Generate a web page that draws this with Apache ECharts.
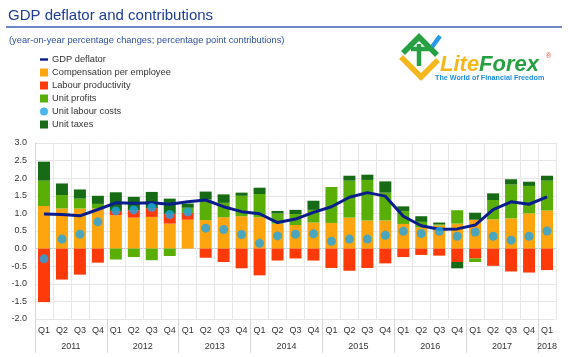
<!DOCTYPE html>
<html><head><meta charset="utf-8">
<script src="https://cdn.jsdelivr.net/npm/echarts@6/dist/echarts.min.js"></script>
<style>html,body{margin:0;padding:0;background:#fff}#c{width:568px;height:357px}</style>
</head><body><div id="c"></div>
<script>
const categories = [
  '2011Q1','2011Q2','2011Q3','2011Q4',
  '2012Q1','2012Q2','2012Q3','2012Q4',
  '2013Q1','2013Q2','2013Q3','2013Q4',
  '2014Q1','2014Q2','2014Q3','2014Q4',
  '2015Q1','2015Q2','2015Q3','2015Q4',
  '2016Q1','2016Q2','2016Q3','2016Q4',
  '2017Q1','2017Q2','2017Q3','2017Q4',
  '2018Q1'
];
const compensation = [
  1.21, 1.14, 1.14, 1.14,
  0.95, 0.88, 0.90, 0.71,
  0.82, 0.81, 0.89, 0.92,
  0.89, 0.71, 0.67, 0.74,
  0.73, 0.88, 0.80, 0.80,
  0.70, 0.60, 0.66, 0.71,
  0.82, 0.83, 0.86, 1.00,
  1.08
];
const productivity = [
  -1.52, -0.88, -0.74, -0.40,
  0.12, 0.21, 0.25, 0.28,
  0.19, -0.26, -0.38, -0.56,
  -0.76, -0.34, -0.28, -0.34,
  -0.55, -0.63, -0.55, -0.42,
  -0.24, -0.18, -0.20, -0.38,
  -0.28, -0.49, -0.65, -0.68,
  -0.61
];
const profits = [
  0.72, 0.38, 0.28, 0.13,
  -0.31, -0.24, -0.33, -0.21,
  0.15, 0.59, 0.41, 0.58,
  0.66, 0.29, 0.31, 0.36,
  1.02, 1.05, 1.15, 0.79,
  0.37, 0.16, 0.03, 0.38,
  -0.10, 0.55, 0.96, 0.78,
  0.85
];
const taxes = [
  0.54, 0.33, 0.26, 0.23,
  0.53, 0.38, 0.46, 0.43,
  0.12, 0.22, 0.24, 0.09,
  0.18, 0.07, 0.12, 0.26,
  0.00, 0.14, 0.15, 0.32,
  0.13, 0.16, 0.05, -0.18,
  0.20, 0.19, 0.15, 0.12,
  0.14
];
const unitLabourCosts = [
  -0.29, 0.27, 0.41, 0.76,
  1.07, 1.10, 1.17, 0.97,
  1.04, 0.58, 0.54, 0.40,
  0.15, 0.36, 0.41, 0.42,
  0.21, 0.27, 0.27, 0.38,
  0.49, 0.43, 0.49, 0.35,
  0.47, 0.35, 0.24, 0.35,
  0.50
];
const gdpDeflator = [
  0.98, 0.97, 0.93, 1.11,
  1.30, 1.29, 1.30, 1.26,
  1.33, 1.38, 1.19, 1.05,
  0.99, 0.74, 0.84, 1.03,
  1.19, 1.46, 1.59, 1.49,
  0.92, 0.65, 0.55, 0.56,
  0.67, 1.11, 1.33, 1.26,
  1.47
];
const yTickLabels = ['-2.0','-1.5','-1.0','-0.5','0.0','0.5','1.0','1.5','2.0','2.5','3.0'];

// derived year groups
const yearGroups = [];
categories.forEach((c, i) => {
  const y = c.slice(0, 4);
  const g = yearGroups[yearGroups.length - 1];
  if (g && g.year === y) g.count++; else yearGroups.push({year: y, start: i, count: 1});
});
const yearBoundaries = yearGroups.map(g => g.start);
const yearCenters = yearGroups.map(g => g.start + g.count / 2);

const FONT = 'Liberation Sans, Arial, sans-serif';
const C = {
  comp: '#fca50f', prod: '#ff3a0a', prof: '#5aae08', tax: '#176b14',
  ulc: '#1ea5e9', gdp: '#0b1d8c'
};
const zeroIdx = yTickLabels.indexOf('0.0');
const splitColors = yTickLabels.map((t, i) => i === zeroIdx ? '#cfcfcf' : '#e6e6e6');

const chart = echarts.init(document.getElementById('c'), null, {renderer: 'canvas'});
chart.setOption({
  animation: false,
  textStyle: {fontFamily: FONT},
  title: {
    text: 'GDP deflator and contributions', left: 3, top: 3,
    textStyle: {fontSize: 15, fontWeight: 'normal', color: '#1f3c96', fontFamily: FONT}
  },
  graphic: [
    {type: 'line', shape: {x1: 6, y1: 27, x2: 562, y2: 27}, style: {stroke: '#3d5fb4', lineWidth: 1.5}},
    {type: 'text', left: 9, top: 36, style: {text: '(year-on-year percentage changes; percentage point contributions)', fontSize: 9.3, fill: '#2f4f9f', fontFamily: FONT}},
    // logo
    {type: 'polyline', shape: {points: [[401, 57], [421, 77], [438, 60]]}, style: {stroke: '#f4b81c', lineWidth: 5.5, fill: null, lineJoin: 'miter'}},
    {type: 'polyline', shape: {points: [[403, 53], [419, 37], [437, 55]]}, style: {stroke: '#27a043', lineWidth: 5.5, fill: null, lineJoin: 'miter'}},
    {type: 'polyline', shape: {points: [[419, 44], [419, 66]]}, style: {stroke: '#27a043', lineWidth: 4.5, fill: null}},
    {type: 'polyline', shape: {points: [[411, 49], [429, 49]]}, style: {stroke: '#27a043', lineWidth: 4.5, fill: null}},
    {type: 'polyline', shape: {points: [[432, 47], [440, 36]]}, style: {stroke: '#2a98e6', lineWidth: 4.5, fill: null}},
    {type: 'text', left: 440, top: 54, style: {
      text: '{a|Lite}{b|Forex}', fontFamily: FONT,
      rich: {
        a: {fontSize: 22, fontWeight: 'bold', fontStyle: 'italic', fill: '#f4b81c', fontFamily: FONT},
        b: {fontSize: 22, fontWeight: 'bold', fontStyle: 'italic', fill: '#27a043', fontFamily: FONT}
      }
    }},
    {type: 'text', left: 546, top: 53, style: {text: '®', fontSize: 7, fill: '#e04a3a', fontFamily: FONT}},
    {type: 'text', left: 435, top: 75, style: {text: 'The World of Financial Freedom', fontSize: 7.2, fontWeight: 'bold', fill: '#1d8de0', fontFamily: FONT}}
  ],
  legend: {
    orient: 'vertical', left: 40, top: 55, padding: 0,
    itemWidth: 8, itemHeight: 8, itemGap: 4,
    textStyle: {fontSize: 9.3, color: '#333', fontFamily: FONT, padding: [0, 0, 0, -1]},
    data: [
      {name: 'GDP deflator', icon: 'path://M0,0h10v3h-10z', itemStyle: {color: C.gdp}},
      {name: 'Compensation per employee', icon: 'rect'},
      {name: 'Labour productivity', icon: 'rect'},
      {name: 'Unit profits', icon: 'rect'},
      {name: 'Unit labour costs', icon: 'circle'},
      {name: 'Unit taxes', icon: 'rect'}
    ]
  },
  grid: {left: 35, right: 12, top: 143, bottom: 38},
  xAxis: [
    {
      type: 'category', data: categories, boundaryGap: true,
      axisLine: {show: false}, axisTick: {show: false},
      axisLabel: {formatter: v => v.slice(4), fontSize: 9, color: '#333', margin: 7, interval: 0, fontFamily: FONT},
      splitLine: {show: true, interval: 0, lineStyle: {color: '#e8e8e8', width: 1}}
    },
    {
      type: 'value', min: 0, max: categories.length, position: 'bottom',
      axisLine: {show: false},
      splitLine: {show: false},
      axisTick: {show: true, customValues: yearBoundaries, length: 34, lineStyle: {color: '#d6d6d6'}},
      axisLabel: {
        customValues: yearCenters, margin: 23, fontSize: 9, color: '#333', fontFamily: FONT,
        formatter: v => { const k = yearCenters.indexOf(v); return k >= 0 ? yearGroups[k].year : ''; }
      }
    }
  ],
  yAxis: {
    type: 'value', min: -2, max: 3, interval: 0.5,
    axisLine: {show: true, lineStyle: {color: '#d6d6d6'}},
    axisTick: {show: false},
    axisLabel: {formatter: v => v.toFixed(1), fontSize: 9, color: '#333', margin: 8, fontFamily: FONT},
    splitLine: {show: true, lineStyle: {color: splitColors}}
  },
  series: [
    {name: 'Compensation per employee', type: 'bar', stack: 'c', barWidth: 12, data: compensation, itemStyle: {color: C.comp}},
    {name: 'Labour productivity', type: 'bar', stack: 'c', barWidth: 12, data: productivity, itemStyle: {color: C.prod}},
    {name: 'Unit profits', type: 'bar', stack: 'c', barWidth: 12, data: profits, itemStyle: {color: C.prof}},
    {name: 'Unit taxes', type: 'bar', stack: 'c', barWidth: 12, data: taxes, itemStyle: {color: C.tax}},
    {name: 'GDP deflator', type: 'line', data: gdpDeflator, showSymbol: false, symbol: 'none', z: 5,
      lineStyle: {color: C.gdp, width: 3}, itemStyle: {color: C.gdp}},
    {name: 'Unit labour costs', type: 'scatter', data: unitLabourCosts, symbol: 'circle', symbolSize: 9, z: 6,
      itemStyle: {color: C.ulc}}
  ]
});
</script></body></html>
